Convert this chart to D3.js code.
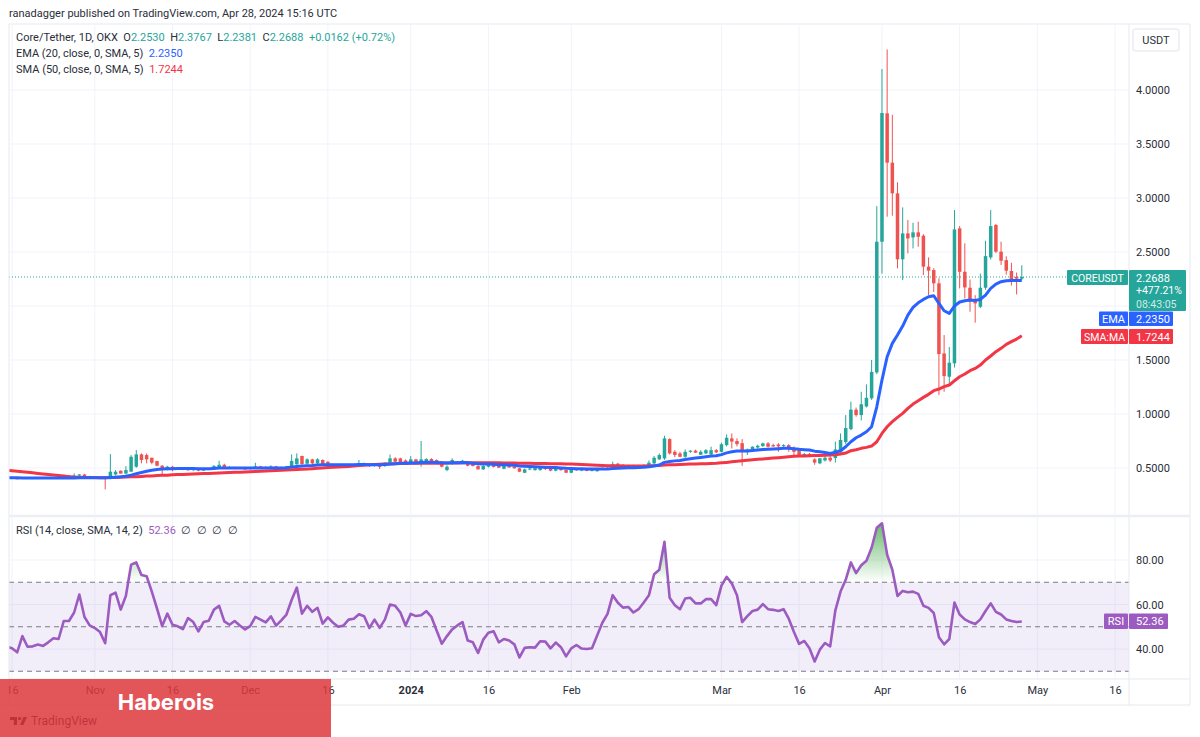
<!DOCTYPE html>
<html>
<head>
<meta charset="utf-8">
<style type="text/css">
    html, body { margin: 0; padding: 0; background: #fff; }
    svg { display: block; }
    text { font-family: Roboto, sans-serif; font-size: 11px; fill: #2a2e39; }
    .axis path.domain { display: none; }
    .grid line { stroke: #f0f3fa; stroke-width: 1px; }
    .frame { stroke: #e6e9f0; stroke-width: 1px; fill: none; }
</style>
<script src="https://d3js.org/d3.v7.min.js"></script>
</head>
<body>
<svg id="chart" width="1200" height="737"></svg>
<script type="text/javascript">
// daily candles, Oct 15 2023 -> Apr 28 2024
const firstDay = '2023-10-15', lastDay = '2024-04-28';

const opens = [.412,.410,.404,.400,.412,.405,.407,.405,.408,.406,.409,.411,.430,.418,.430,.440,.422,.418,.410,.410,.398,
.440,.475,.449,.466,.512,.626,.620,.595,.564,.521,.481,.512,.487,.497,.488,.482,.490,.476,.485,.490,
.505,.530,.510,.500,.507,.495,.490,.500,.515,.500,.495,.515,.495,.505,.505,.534,.611,.540,.580,.543,
.574,.558,.527,.535,.522,.530,.520,.530,.545,.530,.518,.532,.518,.550,.589,.589,.570,.543,.580,.543,
.548,.583,.574,.558,.481,.537,.558,.543,.558,.537,.518,.487,.512,.527,.521,.493,.518,.512,.497,.456,
.487,.480,.480,.500,.496,.475,.496,.481,.456,.490,.478,.485,.473,.470,.488,.500,.512,.540,.530,.518,
.525,.515,.522,.527,.543,.580,.589,.768,.650,.635,.604,.650,.660,.623,.635,.625,.665,.650,.712,.774,
.750,.730,.657,.672,.690,.703,.728,.712,.718,.703,.712,.680,.672,.610,.630,.580,.543,.570,.595,.592,
.65,.74,.86,1.04,.99,1.07,1.145,1.385,2.595,3.784,3.327,3.043,2.432,2.672,2.635,2.682,2.651,2.364,2.333,2.21,
1.561,1.345,1.469,2.719,2.317,2.169,2.064,1.993,2.169,2.45,2.75,2.503,2.425,2.324,2.27,2.2530];
const highs = [.416,.414,.410,.416,.414,.409,.410,.410,.411,.412,.414,.437,.432,.450,.445,.446,.428,.420,.413,.414,.628,
.481,.478,.517,.620,.666,.635,.635,.595,.567,.527,.520,.520,.505,.505,.500,.497,.495,.492,.495,.528,
.567,.540,.515,.512,.510,.500,.505,.548,.520,.517,.525,.520,.512,.520,.626,.635,.615,.590,.585,.590,
.580,.562,.540,.540,.535,.535,.536,.574,.550,.540,.540,.545,.550,.625,.600,.595,.580,.610,.585,.750,
.590,.590,.580,.565,.525,.590,.565,.575,.565,.545,.525,.525,.535,.530,.530,.525,.525,.517,.500,.495,
.505,.505,.505,.505,.500,.500,.500,.485,.490,.495,.490,.490,.490,.492,.505,.508,.558,.548,.535,.530,
.530,.530,.535,.570,.610,.635,.799,.775,.665,.650,.672,.665,.670,.665,.675,.697,.675,.735,.811,.820,
.775,.768,.680,.700,.715,.735,.740,.725,.730,.720,.720,.700,.680,.640,.640,.590,.590,.610,.610,.745,
.82,.99,1.114,1.06,1.206,1.274,1.50,2.925,4.194,4.376,3.77,3.145,2.913,2.796,2.771,2.78,2.665,2.45,2.35,2.256,
1.731,1.62,2.888,2.74,2.58,2.245,2.10,2.30,2.604,2.888,2.76,2.595,2.46,2.40,2.31,2.3767];
const lows = [.404,.402,.396,.398,.402,.401,.402,.402,.404,.403,.404,.408,.415,.416,.420,.418,.414,.408,.400,.302,.394,
.430,.448,.440,.466,.502,.543,.543,.534,.515,.444,.478,.470,.483,.480,.475,.470,.470,.472,.480,.486,
.500,.500,.495,.495,.490,.485,.486,.495,.495,.490,.490,.488,.490,.500,.500,.530,.530,.530,.535,.535,
.530,.525,.520,.518,.516,.515,.515,.525,.525,.510,.512,.490,.510,.545,.555,.545,.530,.535,.535,.512,
.540,.540,.545,.505,.470,.530,.540,.535,.515,.515,.487,.482,.505,.505,.500,.488,.500,.495,.462,.452,
.480,.475,.476,.480,.470,.470,.475,.456,.452,.475,.470,.470,.468,.466,.483,.490,.505,.525,.515,.512,
.512,.510,.515,.520,.535,.575,.575,.625,.600,.600,.595,.640,.640,.620,.630,.620,.640,.645,.700,.680,
.700,.520,.620,.660,.680,.695,.690,.695,.650,.695,.650,.615,.610,.600,.600,.530,.535,.560,.555,.55,
.62,.72,.85,.975,.94,1.06,1.13,1.37,2.30,2.827,2.836,2.348,2.24,2.487,2.533,2.549,2.286,2.101,2.13,1.175,
1.206,1.28,1.43,2.163,2.07,1.947,1.845,1.98,2.15,2.43,2.49,2.38,2.29,2.19,2.107,2.2381];
const closes = [.410,.404,.400,.412,.405,.407,.405,.408,.406,.409,.411,.430,.418,.430,.440,.422,.418,.410,.404,.398,.466,
.466,.448,.481,.604,.626,.574,.580,.549,.521,.481,.512,.487,.497,.488,.482,.490,.476,.485,.490,.518,
.530,.510,.500,.507,.495,.490,.500,.515,.500,.495,.515,.495,.505,.515,.566,.589,.537,.580,.543,.580,
.537,.527,.535,.522,.530,.520,.530,.545,.530,.518,.532,.510,.550,.589,.558,.555,.540,.580,.543,.580,
.583,.548,.548,.512,.512,.574,.543,.568,.521,.518,.487,.518,.527,.510,.503,.518,.506,.497,.466,.487,
.495,.498,.500,.490,.475,.496,.480,.456,.481,.478,.485,.473,.487,.485,.500,.495,.533,.530,.518,.525,
.515,.522,.528,.549,.595,.620,.774,.635,.620,.604,.650,.660,.642,.650,.665,.665,.645,.720,.780,.745,
.720,.650,.672,.697,.706,.728,.697,.700,.700,.712,.680,.650,.614,.630,.608,.550,.590,.595,.570,.672,
.76,.87,1.04,.99,1.09,1.15,1.39,2.595,3.787,3.327,3.043,2.432,2.672,2.626,2.682,2.641,2.364,2.327,2.21,1.555,
1.351,1.475,2.709,2.317,2.172,2.04,2.024,2.169,2.462,2.74,2.503,2.419,2.327,2.24,2.2530,2.2688];

const ema20 = [.409,.409,.409,.408,.408,.408,.407,.407,.407,.407,.407,.408,.408,.408,.409,.409,.409,.409,.409,.409,.411,
.414,.418,.424,.434,.447,.459,.470,.479,.486,.490,.492,.494,.495,.495,.495,.495,.494,.494,.494,.496,
.499,.500,.500,.500,.500,.499,.499,.500,.500,.500,.501,.501,.501,.502,.508,.515,.518,.522,.524,.528,
.530,.530,.530,.530,.530,.530,.530,.532,.532,.531,.531,.530,.532,.537,.540,.543,.543,.547,.547,.550,
.553,.553,.552,.549,.547,.549,.549,.551,.548,.545,.540,.538,.537,.534,.531,.530,.528,.525,.519,.516,
.514,.512,.510,.508,.505,.504,.501,.497,.495,.494,.493,.491,.491,.490,.491,.491,.495,.498,.500,.502,
.503,.505,.507,.511,.519,.528,.552,.560,.566,.570,.578,.586,.592,.598,.604,.610,.613,.624,.640,.650,
.657,.657,.658,.662,.666,.671,.674,.677,.679,.682,.682,.679,.673,.670,.667,.656,.651,.643,.635,.645,
.660,.697,.743,.780,.805,.836,.882,1.067,1.314,1.530,1.654,1.731,1.814,1.916,1.987,2.030,2.061,2.086,2.095,2.024,
1.956,1.932,2.000,2.037,2.049,2.055,2.052,2.061,2.101,2.163,2.203,2.225,2.234,2.237,2.237,2.2350];
const sma50 = [.479,.475,.470,.465,.460,.455,.450,.445,.440,.435,.430,.425,.420,.416,.414,.413,.412,.411,.410,.410,.411,
.413,.414,.416,.418,.420,.422,.425,.427,.430,.432,.434,.437,.439,.440,.442,.444,.446,.448,.450,.452,
.454,.456,.458,.460,.461,.463,.465,.468,.471,.473,.475,.477,.479,.481,.483,.486,.488,.491,.494,.497,
.500,.504,.507,.510,.512,.515,.518,.522,.526,.529,.532,.534,.536,.538,.540,.541,.542,.543,.543,.544,
.544,.544,.545,.545,.546,.547,.547,.548,.549,.549,.549,.549,.549,.548,.548,.547,.546,.546,.545,.544,
.543,.542,.541,.541,.540,.540,.539,.538,.536,.534,.532,.530,.528,.526,.524,.522,.521,.520,.519,.518,
.518,.518,.519,.520,.522,.524,.527,.529,.531,.533,.534,.536,.537,.539,.540,.542,.544,.548,.552,.557,
.562,.568,.572,.576,.580,.584,.588,.592,.596,.600,.604,.608,.611,.612,.613,.615,.616,.618,.620,.623,
.629,.638,.660,.669,.682,.691,.703,.743,.820,.882,.929,.969,1.006,1.052,1.092,1.123,1.154,1.182,1.216,1.231,
1.253,1.268,1.308,1.345,1.370,1.401,1.422,1.453,1.500,1.537,1.577,1.608,1.645,1.670,1.694,1.7244];
const rsi14 = [41,40.3,38.5,45.8,41,41.2,42,41.4,43,44.8,44.5,52.6,52.6,56.4,64.5,54.4,50.6,49.4,47.6,42.6,64.2,
65.3,57.7,63.9,77.9,78.9,73.3,72.7,65.8,58.2,50.3,55.9,50.9,50.2,48.9,53.9,52.1,47.9,52.1,52.7,57.7,
59.4,52.4,50.9,52.6,50.6,48.8,50.3,54.4,53.2,52,54.7,50.5,52.9,55.5,62,67.6,55.9,59.4,56.7,58.5,
51.4,54.2,51.8,50,50.5,53.2,53.6,55.6,54.7,49.4,53.2,49.5,53.2,60,59.4,56.4,50.6,55.8,54.8,55.2,
57,54.4,48.3,42.4,45.8,48.8,50.6,52.1,43.8,43,38.2,44.2,47.3,48,43,44.5,43.8,42.1,36.2,40.5,
40.8,40.6,43.5,43.3,40.3,42.9,40.8,36.7,40.3,41.8,40.2,40,40.3,46.1,51.8,55.8,64.2,60.8,58.6,58.9,
56.4,57.9,60.9,64.2,73.6,75.6,88.2,63,59.7,57.9,62.7,63,60.5,60.5,62.4,62.4,59.7,68.5,72.4,69.5,
64.2,52.1,54.8,57.1,57.7,60.2,57.9,57.6,57.1,57.9,53.6,47.6,42.3,43.6,40.3,34.4,39.7,42.7,41.2,57.4,
65.8,71.1,78.9,74.1,77.6,79.7,85.5,94.5,96.5,82.4,75.6,63.8,66.1,65.5,65.8,64.8,59.4,58.5,56.2,45.3,
42.1,44.5,60.9,55.5,53.3,52.1,51.2,53.3,57.1,60.5,56.7,55.5,53.3,52.6,52.1,52.36];

const priceTicks = [0.5, 1, 1.5, 2, 2.5, 3, 3.5, 4];
const rsiTicks = [40, 60, 80];
const rsiLevels = [30, 50, 70];
const timeTickDates = ['2023-10-16','2023-11-01','2023-11-16','2023-12-01','2023-12-16','2024-01-01','2024-01-16',
    '2024-02-01','2024-03-01','2024-03-16','2024-04-01','2024-04-16','2024-05-01','2024-05-16'];
const timeTickLabels = ['16','Nov','16','Dec','16','2024','16','Feb','Mar','16','Apr','16','May','16'];

const upColor = '#26a69a', downColor = '#ef5350', emaColor = '#2962ff', smaColor = '#f23645', rsiColor = '#9c5bc0';
const left = 9, right = 1129, outerRight = 1190;

const parseDay = d3.utcParse('%Y-%m-%d');
const days = d3.utcDay.range(parseDay(firstDay), d3.utcDay.offset(parseDay(lastDay), 1));
const timeTicks = timeTickDates.map(parseDay);

const x = d3.scaleUtc().domain([parseDay('2023-10-16'), parseDay('2024-05-16')]).range([12, 1115]);
const y = d3.scaleLinear().domain([0.5, 4]).range([468, 90]);
const yRsi = d3.scaleLinear().domain([40, 80]).range([649, 560]);

const svg = d3.select('#chart');
const defs = svg.append('defs');
defs.append('clipPath').attr('id', 'priceClip').append('rect')
    .attr('x', left).attr('y', 25).attr('width', right - left).attr('height', 490);
defs.append('clipPath').attr('id', 'rsiClip').append('rect')
    .attr('x', left).attr('y', 518).attr('width', right - left).attr('height', 161);
// clip rect is in the axis group's own coordinates
defs.append('clipPath').attr('id', 'timeClip').append('rect')
    .attr('x', left).attr('y', 0).attr('width', right - left).attr('height', 25);
// only the part of the rsi above 70 gets the green fill
defs.append('clipPath').attr('id', 'overbought').append('rect')
    .attr('x', left).attr('y', yRsi(100)).attr('width', right - left).attr('height', yRsi(70) - yRsi(100));
const grad = defs.append('linearGradient').attr('id', 'obGrad')
    .attr('gradientUnits', 'userSpaceOnUse')
    .attr('x1', 0).attr('x2', 0).attr('y1', yRsi(100)).attr('y2', yRsi(70));
grad.append('stop').attr('offset', 0).attr('stop-color', '#4caf50').attr('stop-opacity', 0.95);
grad.append('stop').attr('offset', 1).attr('stop-color', '#4caf50').attr('stop-opacity', 0);

// vertical + horizontal grid
svg.append('g').attr('class', 'grid').attr('clip-path', 'url(#priceClip)')
    .selectAll('line').data(timeTicks).enter().append('line')
    .attr('x1', d => x(d)).attr('x2', d => x(d)).attr('y1', 25).attr('y2', 515);
svg.append('g').attr('class', 'grid').attr('clip-path', 'url(#rsiClip)')
    .selectAll('line').data(timeTicks).enter().append('line')
    .attr('x1', d => x(d)).attr('x2', d => x(d)).attr('y1', 518).attr('y2', 679);
svg.append('g').attr('class', 'grid')
    .selectAll('line').data(priceTicks).enter().append('line')
    .attr('x1', left).attr('x2', right).attr('y1', d => y(d)).attr('y2', d => y(d));
svg.append('g').attr('class', 'grid')
    .selectAll('line').data(rsiTicks).enter().append('line')
    .attr('x1', left).attr('x2', right).attr('y1', d => yRsi(d)).attr('y2', d => yRsi(d));

// last price dotted line
svg.append('line')
    .attr('x1', left).attr('x2', 1067).attr('y1', y(closes[closes.length - 1])).attr('y2', y(closes[closes.length - 1]))
    .attr('stroke', upColor).attr('stroke-width', 1).attr('stroke-dasharray', '1 2');

// candles
const candles = svg.append('g').attr('clip-path', 'url(#priceClip)')
    .selectAll('g').data(days).enter().append('g');
candles.append('line')
    .attr('x1', d => x(d)).attr('x2', d => x(d))
    .attr('y1', (d, i) => y(highs[i])).attr('y2', (d, i) => y(lows[i]))
    .attr('stroke', (d, i) => closes[i] >= opens[i] ? upColor : downColor)
    .attr('stroke-width', 1);
candles.append('rect')
    .attr('x', d => x(d) - 1.75).attr('width', 3.5)
    .attr('y', (d, i) => y(Math.max(opens[i], closes[i])))
    .attr('height', (d, i) => Math.max(1, Math.abs(y(opens[i]) - y(closes[i]))))
    .attr('fill', (d, i) => closes[i] >= opens[i] ? upColor : downColor);

// moving averages
const maLine = values => d3.line().x(d => x(d)).y((d, i) => y(values[i]))(days);
svg.append('path').attr('clip-path', 'url(#priceClip)').attr('d', maLine(sma50))
    .attr('fill', 'none').attr('stroke', smaColor).attr('stroke-width', 3).attr('stroke-linejoin', 'round');
svg.append('path').attr('clip-path', 'url(#priceClip)').attr('d', maLine(ema20))
    .attr('fill', 'none').attr('stroke', emaColor).attr('stroke-width', 3).attr('stroke-linejoin', 'round');

// rsi pane
svg.append('rect').attr('x', left).attr('width', right - left)
    .attr('y', yRsi(70)).attr('height', yRsi(30) - yRsi(70))
    .attr('fill', '#7e57c2').attr('opacity', 0.1);
svg.append('g').selectAll('line').data(rsiLevels).enter().append('line')
    .attr('x1', left).attr('x2', right).attr('y1', d => yRsi(d)).attr('y2', d => yRsi(d))
    .attr('stroke', '#787b86').attr('stroke-width', 1).attr('stroke-dasharray', '5 4');
svg.append('path').attr('clip-path', 'url(#overbought)')
    .attr('d', d3.area().x(d => x(d)).y0(yRsi(70)).y1((d, i) => yRsi(rsi14[i]))(days))
    .attr('fill', 'url(#obGrad)');
svg.append('path').attr('clip-path', 'url(#rsiClip)')
    .attr('d', d3.line().x(d => x(d)).y((d, i) => yRsi(rsi14[i]))(days))
    .attr('fill', 'none').attr('stroke', rsiColor).attr('stroke-width', 2.6).attr('stroke-linejoin', 'round');

// frame + pane separators
[[left, 24, left, 705], [right, 24, right, 705], [outerRight, 24, outerRight, 705],
 [left, 24, outerRight, 24], [left, 679, outerRight, 679], [0, 705, outerRight, 705]].forEach(s => {
    svg.append('line').attr('class', 'frame').attr('x1', s[0]).attr('y1', s[1]).attr('x2', s[2]).attr('y2', s[3]);
});
svg.append('line').attr('x1', left).attr('x2', outerRight).attr('y1', 516).attr('y2', 516)
    .attr('stroke', '#eceef3').attr('stroke-width', 2.5);

// axes
svg.append('g').attr('class', 'axis').attr('transform', 'translate(1129,0)')
    .call(d3.axisRight(y).tickValues(priceTicks.filter(d => d !== 2)).tickSize(0).tickPadding(7).tickFormat(d3.format('.4f')))
    .selectAll('text').style('font-size', '11px');
svg.append('g').attr('class', 'axis').attr('transform', 'translate(1129,0)')
    .call(d3.axisRight(yRsi).tickValues(rsiTicks).tickSize(0).tickPadding(7).tickFormat(d3.format('.2f')))
    .selectAll('text').style('font-size', '11px');
svg.append('g').attr('class', 'axis').attr('transform', 'translate(0,680)').attr('clip-path', 'url(#timeClip)')
    .call(d3.axisBottom(x).tickValues(timeTicks).tickSize(0).tickPadding(6)
        .tickFormat((d, i) => timeTickLabels[i]))
    .selectAll('text').style('font-size', '11px')
    .style('font-weight', (d, i) => timeTickLabels[i] === '2024' ? 700 : 400);

// price tags
function tag(x0, x1, y0, y1, color, label, size) {
    svg.append('rect').attr('x', x0).attr('y', y0).attr('width', x1 - x0).attr('height', y1 - y0)
        .attr('fill', color).attr('rx', 1);
    svg.append('text').attr('x', (x0 + x1) / 2).attr('y', y0 + 11.5).attr('text-anchor', 'middle').text(label)
        .style('fill', '#fff').style('font-size', (size || 11) + 'px');
}
function tagValue(x0, x1, y0, y1, color, label) {
    svg.append('rect').attr('x', x0).attr('y', y0).attr('width', x1 - x0).attr('height', y1 - y0)
        .attr('fill', color).attr('rx', 1);
    svg.append('text').attr('x', x0 + 7).attr('y', y0 + 11.5).text(label).style('fill', '#fff');
}
tag(1067, 1128, 270, 285, upColor, 'COREUSDT', 10.5);
tagValue(1129, 1186, 270, 311, upColor, '2.2688');
svg.append('text').attr('x', 1136).attr('y', 294).text('+477.21%').style('fill', '#fff').style('font-size', '10.5px');
svg.append('text').attr('x', 1136).attr('y', 307.5).text('08:43:05').style('fill', '#cdeae6').style('font-size', '10.5px');
tag(1099, 1128, 311.5, 326, emaColor, 'EMA');
tagValue(1129, 1173, 311.5, 326, emaColor, '2.2350');
tag(1081, 1128, 329, 344, smaColor, 'SMA:MA', 10.5);
tagValue(1129, 1173, 329, 344, smaColor, '1.7244');
tag(1104, 1128, 613.5, 629, rsiColor, 'RSI');
tagValue(1129, 1168, 613.5, 629, rsiColor, '52.36');

// USDT button
svg.append('rect').attr('x', 1133).attr('y', 29).attr('width', 46).attr('height', 22)
    .attr('fill', '#fff').attr('stroke', '#e0e3eb').attr('rx', 2);
svg.append('text').attr('x', 1156).attr('y', 44).attr('text-anchor', 'middle').text('USDT');

// legends
svg.append('text').attr('x', 9).attr('y', 17).text('ranadagger published on TradingView.com, Apr 28, 2024 15:16 UTC');

const legend = svg.append('text').attr('x', 16).attr('y', 41).style('white-space', 'pre');
const legendParts = [['Core/Tether, 1D, OKX  O', '#2a2e39'], ['2.2530', upColor], ['  H', '#2a2e39'], ['2.3767', upColor],
    ['  L', '#2a2e39'], ['2.2381', upColor], ['  C', '#2a2e39'], ['2.2688', upColor], ['  +0.0162 (+0.72%)', upColor]];
legend.selectAll('tspan').data(legendParts).enter().append('tspan')
    .text(d => d[0]).style('fill', d => d[1]);

const emaLegend = svg.append('text').attr('x', 16).attr('y', 57).style('white-space', 'pre');
emaLegend.append('tspan').text('EMA (20, close, 0, SMA, 5)  ');
emaLegend.append('tspan').text('2.2350').style('fill', emaColor);
const smaLegend = svg.append('text').attr('x', 16).attr('y', 73).style('white-space', 'pre');
smaLegend.append('tspan').text('SMA (50, close, 0, SMA, 5)  ');
smaLegend.append('tspan').text('1.7244').style('fill', smaColor);
const rsiLegend = svg.append('text').attr('x', 16).attr('y', 534).style('white-space', 'pre');
rsiLegend.append('tspan').text('RSI (14, close, SMA, 14, 2)  ');
rsiLegend.append('tspan').text('52.36').style('fill', rsiColor);
rsiLegend.append('tspan').text('  \u2205  \u2205  \u2205  \u2205');

// TradingView attribution, red banner goes on top of it
const logo = svg.append('g').attr('fill', '#131722');
logo.append('path').attr('d', 'M10 717h7v8h-3.2v-5H10z');
logo.append('circle').attr('cx', 19.6).attr('cy', 718.6).attr('r', 1.7);
logo.append('path').attr('d', 'M23.5 717H27l-3.6 8H20z');
svg.append('text').attr('x', 31).attr('y', 725).text('TradingView').style('font-size', '12px').style('fill', '#131722');
svg.append('rect').attr('x', 0).attr('y', 679).attr('width', 331).attr('height', 58)
    .attr('fill', '#dd383d').attr('opacity', 0.85);
svg.append('text').attr('x', 166).attr('y', 710).attr('text-anchor', 'middle').text('Haberois')
    .style('font-family', 'Inter, sans-serif').style('font-weight', 700).style('font-size', '22px').style('fill', '#fff');
</script>
</body>
</html>
